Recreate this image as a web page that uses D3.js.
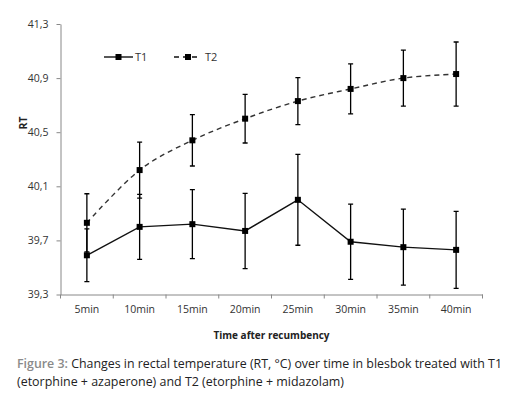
<!DOCTYPE html>
<html>
  <head>
    <meta charset="utf-8" />
    <title>Rectal temperature</title>
    <script src="https://d3js.org/d3.v7.min.js"></script>
    <style>
      body {
        margin: 0;
        background: #fff;
      }
      text {
        font-family: "Open Sans", "Noto Sans", sans-serif;
      }
    </style>
  </head>
  <body>
    <svg id="chart"></svg>

    <script>

      var times = ["5min", "10min", "15min", "20min", "25min", "30min", "35min", "40min"];
      var t1Mean = [39.59, 39.80, 39.82, 39.77, 40.00, 39.69, 39.65, 39.63];
      var t1Err = [0.195, 0.24, 0.255, 0.278, 0.336, 0.278, 0.281, 0.285];
      var t2Mean = [39.83, 40.22, 40.44, 40.60, 40.73, 40.82, 40.90, 40.93];
      var t2Err = [0.215, 0.207, 0.19, 0.18, 0.174, 0.185, 0.207, 0.237];
      var yTicks = [39.3, 39.7, 40.1, 40.5, 40.9, 41.3];

      var width = 511;
      var height = 398;

      var svg = d3.select("#chart")
        .attr("width", width)
        .attr("height", height);

      var x = d3.scaleBand()
        .domain(times)
        .range([60.5, 482.5])
        .padding(0);

      var y = d3.scaleLinear()
        .domain([39.3, 41.3])
        .range([294.5, 24]);

      function cx(d) {
        return x(d) + x.bandwidth() / 2;
      }

      // y axis
      var yAxis = d3.axisLeft(y)
        .tickValues(yTicks)
        .tickFormat(function(d) { return d.toFixed(1).replace(".", ","); })
        .tickSize(4)
        .tickSizeOuter(0)
        .tickPadding(8);

      var gy = svg.append("g")
        .attr("transform", "translate(60.5,0)")
        .call(yAxis);
      gy.select(".domain").attr("stroke", "#888");
      gy.selectAll(".tick line").attr("stroke", "#888");
      gy.selectAll("text")
        .attr("font-size", "10.5px")
        .attr("fill", "#333");

      // x axis, labels under band centres, ticks on band edges
      var xAxis = d3.axisBottom(x)
        .tickSize(0)
        .tickSizeOuter(0)
        .tickPadding(11);

      var gx = svg.append("g")
        .attr("transform", "translate(0,294.5)")
        .call(xAxis);
      gx.select(".domain").attr("stroke", "#888");
      gx.selectAll("text")
        .attr("font-size", "10.5px")
        .attr("fill", "#333");

      var edges = times.map(function(d) { return x(d); }).concat([x.range()[1]]);
      gx.selectAll(".edge")
        .data(edges)
        .enter().append("line")
        .attr("class", "edge")
        .attr("x1", function(d) { return d; })
        .attr("x2", function(d) { return d; })
        .attr("y1", 0)
        .attr("y2", 4)
        .attr("stroke", "#888");

      // axis titles
      svg.append("text")
        .attr("transform", "translate(27,123) rotate(-90)")
        .attr("text-anchor", "middle")
        .attr("font-size", "10.5px")
        .attr("font-weight", "bold")
        .attr("fill", "#222")
        .text("RT");

      svg.append("text")
        .attr("x", 271.5)
        .attr("y", 338.5)
        .attr("text-anchor", "middle")
        .attr("font-size", "10px")
        .attr("font-weight", "bold")
        .attr("fill", "#222")
        .text("Time after recumbency");

      // series
      var series = [
        { name: "T1", mean: t1Mean, err: t1Err, dash: null, color: "#111", curve: d3.curveLinear },
        { name: "T2", mean: t2Mean, err: t2Err, dash: "5,4", color: "#333", curve: d3.curveCardinal.tension(0) }
      ];

      series.forEach(function(s) {
        var pts = times.map(function(t, i) {
          return { t: t, v: s.mean[i], e: s.err[i] };
        });

        var line = d3.line()
          .x(function(d) { return cx(d.t); })
          .y(function(d) { return y(d.v); })
          .curve(s.curve);

        svg.append("path")
          .datum(pts)
          .attr("fill", "none")
          .attr("stroke", s.color)
          .attr("stroke-width", 1.4)
          .attr("stroke-dasharray", s.dash)
          .attr("d", line);

        var g = svg.append("g");

        g.selectAll(".bar")
          .data(pts)
          .enter().append("path")
          .attr("fill", "none")
          .attr("stroke", "#000")
          .attr("stroke-width", 1.3)
          .attr("d", function(d) {
            var xx = cx(d.t), top = y(d.v + d.e), bot = y(d.v - d.e);
            return "M" + (xx - 2.5) + "," + top + "H" + (xx + 2.5) +
              "M" + xx + "," + top + "V" + bot +
              "M" + (xx - 2.5) + "," + bot + "H" + (xx + 2.5);
          });

        g.selectAll(".mark")
          .data(pts)
          .enter().append("rect")
          .attr("x", function(d) { return cx(d.t) - 3; })
          .attr("y", function(d) { return y(d.v) - 3; })
          .attr("width", 6)
          .attr("height", 6)
          .attr("fill", "#000");
      });

      // legend
      var legend = svg.append("g").attr("transform", "translate(0,57)");
      var legendItems = [
        { name: "T1", x0: 104, x1: 133, mx: 118.5, tx: 135, dash: null },
        { name: "T2", x0: 174, x1: 199, mx: 188, tx: 205, dash: "5,4" }
      ];
      legendItems.forEach(function(l) {
        legend.append("line")
          .attr("x1", l.x0).attr("x2", l.x1)
          .attr("y1", 0).attr("y2", 0)
          .attr("stroke", "#111")
          .attr("stroke-width", 1.4)
          .attr("stroke-dasharray", l.dash);
        legend.append("rect")
          .attr("x", l.mx - 3).attr("y", -3)
          .attr("width", 6).attr("height", 6)
          .attr("fill", "#000");
        legend.append("text")
          .attr("x", l.tx)
          .attr("y", 4)
          .attr("font-size", "11px")
          .attr("fill", "#333")
          .text(l.name);
      });

      // caption
      var cap = svg.append("text")
        .attr("x", 17)
        .attr("y", 367.5)
        .attr("font-size", "12px")
        .attr("fill", "#222")
        .attr("textLength", 485)
        .attr("lengthAdjust", "spacingAndGlyphs");
      cap.append("tspan")
        .attr("fill", "#8a8a8a")
        .attr("font-weight", "600")
        .text("Figure 3:");
      cap.append("tspan")
        .text(" Changes in rectal temperature (RT, \u00b0C) over time in blesbok treated with T1");

      svg.append("text")
        .attr("x", 17)
        .attr("y", 385.5)
        .attr("font-size", "12px")
        .attr("fill", "#222")
        .attr("textLength", 327)
        .attr("lengthAdjust", "spacingAndGlyphs")
        .text("(etorphine + azaperone) and T2 (etorphine + midazolam)");

    </script>
  </body>
</html>
